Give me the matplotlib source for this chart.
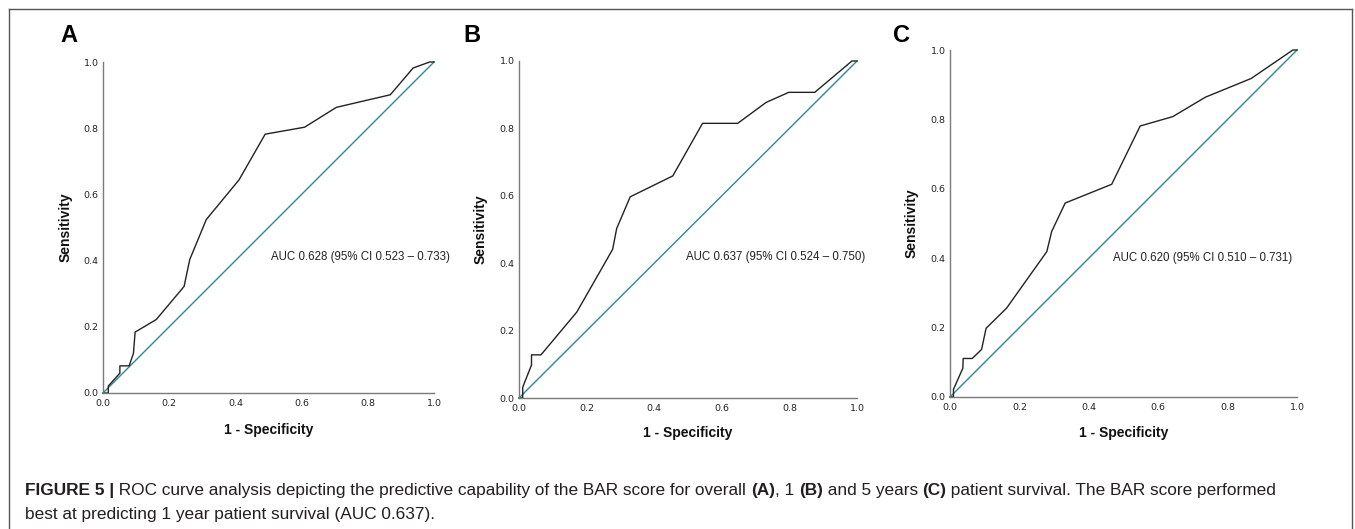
import matplotlib
matplotlib.use('Agg')
import matplotlib.pyplot as plt
from matplotlib.lines import Line2D

# ROC curve points (1 - specificity, sensitivity)
fpr_overall = [0.0, 0.016, 0.016, 0.051, 0.051, 0.079, 0.092, 0.097, 0.161, 0.245,
               0.262, 0.312, 0.411, 0.490, 0.609, 0.705, 0.868, 0.937, 0.987, 1.0]
tpr_overall = [0.0, 0.0, 0.021, 0.060, 0.082, 0.082, 0.120, 0.184, 0.222, 0.322,
               0.403, 0.524, 0.644, 0.782, 0.803, 0.863, 0.901, 0.982, 1.0, 1.0]

fpr_1year = [0.0, 0.011, 0.011, 0.037, 0.037, 0.065, 0.171, 0.277, 0.289, 0.329,
             0.455, 0.543, 0.647, 0.731, 0.798, 0.875, 0.985, 1.0]
tpr_1year = [0.0, 0.0, 0.032, 0.098, 0.128, 0.128, 0.255, 0.441, 0.503, 0.597,
             0.659, 0.815, 0.815, 0.877, 0.907, 0.907, 1.0, 1.0]

fpr_5year = [0.0, 0.010, 0.010, 0.037, 0.038, 0.064, 0.091, 0.104, 0.163, 0.279,
             0.293, 0.332, 0.466, 0.548, 0.642, 0.736, 0.868, 0.988, 1.0]
tpr_5year = [0.0, 0.0, 0.022, 0.083, 0.111, 0.111, 0.137, 0.198, 0.256, 0.419,
             0.477, 0.559, 0.613, 0.781, 0.808, 0.864, 0.918, 1.0, 1.0]

panel_letters = ['A', 'B', 'C']
auc_labels = ['AUC 0.628 (95% CI 0.523 \u2013 0.733)',
              'AUC 0.637 (95% CI 0.524 \u2013 0.750)',
              'AUC 0.620 (95% CI 0.510 \u2013 0.731)']
ticks = [0.0, 0.2, 0.4, 0.6, 0.8, 1.0]
tick_labels = ['0.0', '0.2', '0.4', '0.6', '0.8', '1.0']

W, H = 1355, 529
TEAL = '#2a8a8c'
SPINE = '#7a7a7a'
plt.rcParams['font.family'] = ['Liberation Sans', 'DejaVu Sans']


def px_rect(x0, x1, y_top, y_bot):
    '''Convert a pixel box (from the top left corner) to figure fractions.'''
    return [x0 / W, 1 - y_bot / H, (x1 - x0) / W, (y_bot - y_top) / H]


def draw_roc(ax, fpr, tpr, auc_text, auc_pos):
    '''Draws one ROC panel with the reference diagonal.'''
    ax.plot([0, 1], [0, 1], color=TEAL, lw=1.0, clip_on=False)
    ax.plot(fpr, tpr, color='#222222', lw=1.0, clip_on=False)
    ax.set_xlim(0, 1)
    ax.set_ylim(0, 1)
    for side in ['top', 'right']:
        ax.spines[side].set_visible(False)
    for side in ['left', 'bottom']:
        ax.spines[side].set_color(SPINE)
        ax.spines[side].set_linewidth(1.0)
    ax.set_xticks(ticks)
    ax.set_yticks(ticks)
    ax.set_xticklabels(tick_labels, family='DejaVu Sans', fontsize=6.8)
    ax.set_yticklabels(tick_labels, family='DejaVu Sans', fontsize=6.8)
    ax.tick_params(axis='x', length=0, pad=4.5, colors='#222222')
    ax.tick_params(axis='y', length=0, pad=3, colors='#222222')
    ax.text(auc_pos[0], auc_pos[1], auc_text, transform=ax.transAxes,
            fontsize=8.3, ha='left', va='center', color='#222222')


fig = plt.figure(figsize=(W / 100, H / 100), dpi=100)

# axes boxes in pixels: x0, x1, y_top, y_bottom
boxes = [(103, 434, 62, 393), (519, 857, 61, 398), (950, 1297, 50, 397)]
curves = [(fpr_overall, tpr_overall), (fpr_1year, tpr_1year), (fpr_5year, tpr_5year)]
auc_positions = [(0.508, 0.411), (0.494, 0.418), (0.470, 0.400)]
letter_xy = [(69, 36), (472, 36), (902, 36)]
ylabel_x = [66, 481, 912]
xlabel_y = [430, 433, 433]

for i in range(3):
    x0, x1, yt, yb = boxes[i]
    ax = fig.add_axes(px_rect(x0, x1, yt, yb))
    draw_roc(ax, curves[i][0], curves[i][1], auc_labels[i], auc_positions[i])
    fig.text(letter_xy[i][0] / W, 1 - letter_xy[i][1] / H, panel_letters[i],
             fontsize=17, fontweight='bold', ha='center', va='center')
    fig.text(ylabel_x[i] / W, 1 - ((yt + yb) / 2) / H, 'Sensitivity', rotation=90,
             fontsize=10, fontweight='bold', ha='center', va='center', color='#111111')
    fig.text(((x0 + x1) / 2) / W, 1 - xlabel_y[i] / H, '1 - Specificity',
             fontsize=10, fontweight='bold', ha='center', va='center', color='#111111')

# frame around the figure (open at the bottom)
fl, fr, ft = 9 / W, 1352 / W, 1 - 9 / H
for xs, ys in [([fl, fl], [0, ft]), ([fl, fr], [ft, ft]), ([fr, fr], [ft, 0])]:
    fig.add_artist(Line2D(xs, ys, color='#555555', lw=1.0, transform=fig.transFigure))

# caption with bold runs, placed piece by piece
caption_lines = [
    [('FIGURE 5 |', 'bold'),
     (' ROC curve analysis depicting the predictive capability of the BAR score for overall ', 'normal'),
     ('(A)', 'bold'), (', 1 ', 'normal'), ('(B)', 'bold'), (' and 5 years ', 'normal'),
     ('(C)', 'bold'), (' patient survival. The BAR score performed', 'normal')],
    [('best at predicting 1 year patient survival (AUC 0.637).', 'normal')],
]
caption_baselines = [495, 519]
renderer = fig.canvas.get_renderer()
for line, base in zip(caption_lines, caption_baselines):
    x = 25
    for txt, weight in line:
        t = fig.text(x / W, 1 - base / H, txt, fontsize=12.4, fontweight=weight,
                     ha='left', va='baseline', color='#231f20')
        x += t.get_window_extent(renderer).width

fig.savefig('out.png', dpi=100)
